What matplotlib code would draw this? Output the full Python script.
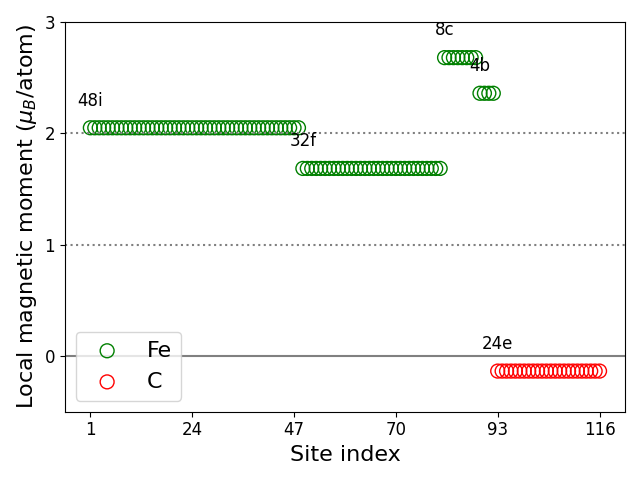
import numpy as np
import matplotlib
matplotlib.use('Agg')
import matplotlib.pyplot as plt

# site groups: (label, first index, count, moment)
site_labels = ['48i', '32f', '8c', '4b', '24e']
site_start  = [1, 49, 81, 89, 93]
site_count  = [48, 32, 8, 4, 24]
site_moment = [2.05, 1.685, 2.68, 2.36, -0.135]
site_elem   = ['Fe', 'Fe', 'Fe', 'Fe', 'C']
xticks = [1, 24, 47, 70, 93, 116]

colors = {'Fe': 'green', 'C': 'red'}

fig, ax = plt.subplots(figsize=(6.4, 4.8), dpi=100)
ax.axhline(0, color='gray', lw=1.5)
ax.axhline(1, color='gray', ls=':', lw=1.5)
ax.axhline(2, color='gray', ls=':', lw=1.5)

done = set()
for lab, s, n, m, el in zip(site_labels, site_start, site_count, site_moment, site_elem):
    idx = np.arange(s, s + n)
    ax.scatter(idx, np.full(n, m), s=100, facecolors='none', edgecolors=colors[el],
               label=el if el not in done else None)
    done.add(el)
    ax.text(s, m + 0.2, lab, ha='center', fontsize=12)

ax.set_xticks(xticks)
ax.set_yticks([0, 1, 2, 3])
ax.set_ylim(-0.5, 3)
ax.tick_params(labelsize=12)
ax.set_xlabel('Site index', fontsize=16)
ax.set_ylabel('Local magnetic moment ($\\mu_B$/atom)', fontsize=16)
ax.legend(loc='lower left', fontsize=16)
fig.tight_layout()
fig.savefig('out.png', dpi=100)
